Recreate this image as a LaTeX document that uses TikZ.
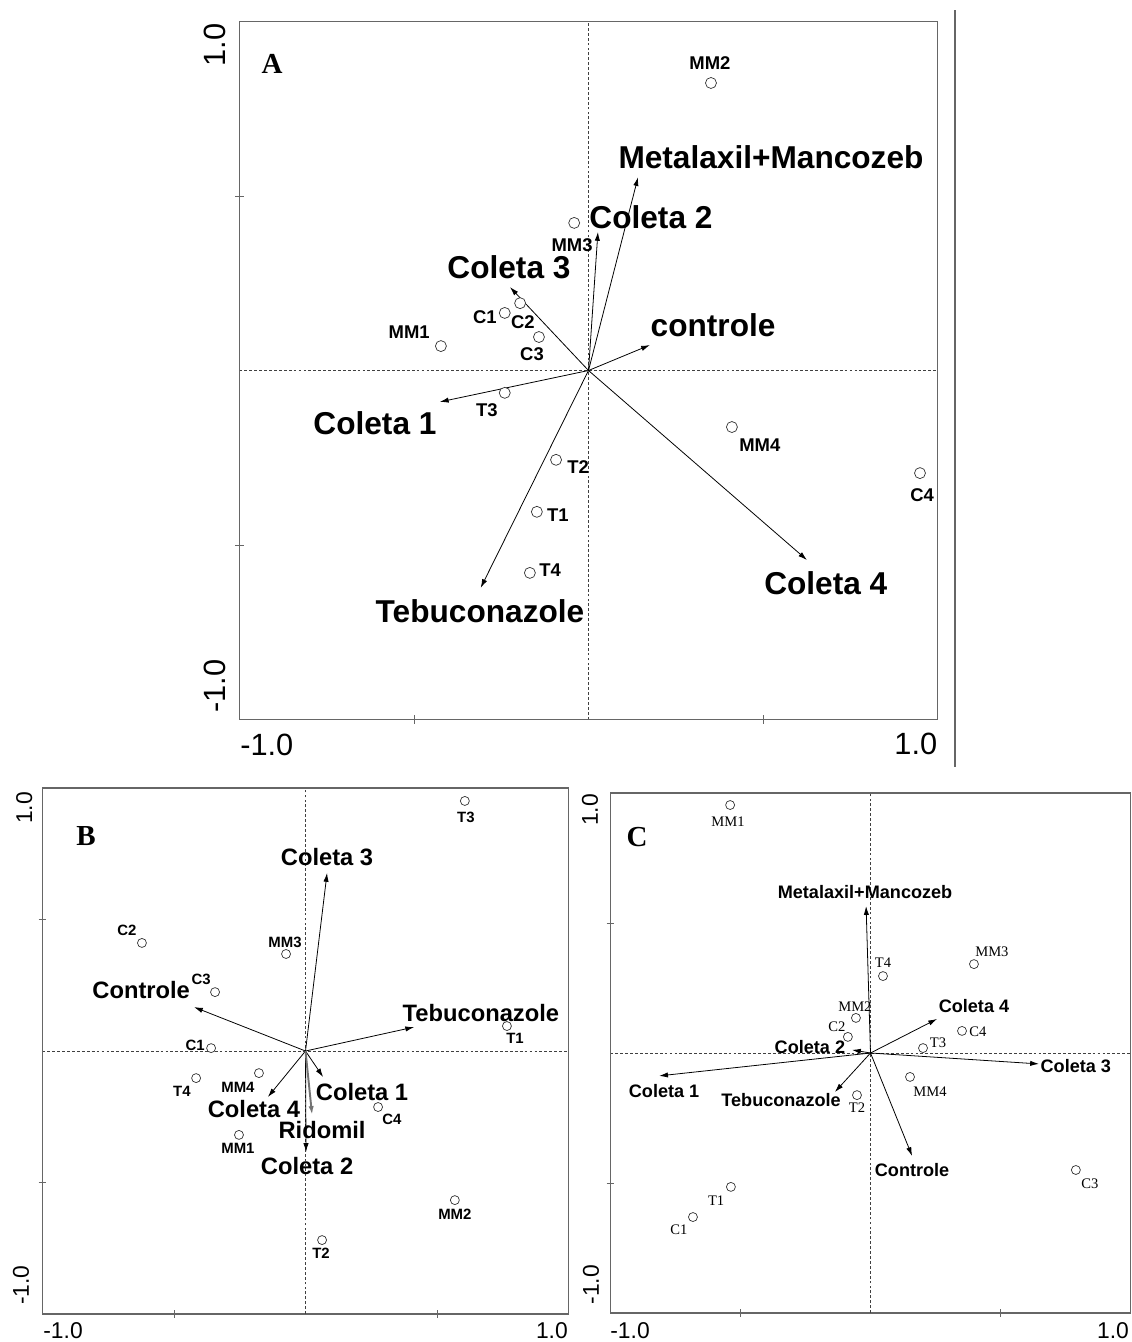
\documentclass[tikz,border=0pt]{standalone}
\usepackage{fontspec}
\setmainfont{Liberation Serif}
\setsansfont{Liberation Sans}
\usetikzlibrary{arrows.meta}

\tikzset{
  frame/.style={draw=black!60, line width=0.8pt},
  zeroline/.style={draw=black!75, line width=0.35pt, dash pattern=on 1.6pt off 1.2pt},
  tick/.style={draw=black!60, line width=0.5pt},
  vec/.style={-{Latex[length=5pt,width=3pt]}, line width=0.45pt},
  site/.style={circle, draw=black!80, fill=white, line width=0.4pt, inner sep=0pt, minimum size=0.22cm},
  varA/.style={font=\sffamily\bfseries\fontsize{18}{18}\selectfont, inner sep=0pt},
  varB/.style={font=\sffamily\bfseries\fontsize{13.5}{13.5}\selectfont, inner sep=0pt},
  varC/.style={font=\sffamily\bfseries\fontsize{10.3}{10.3}\selectfont, inner sep=0pt},
  labA/.style={font=\sffamily\bfseries\fontsize{10.5}{10.5}\selectfont, inner sep=0pt},
  labB/.style={font=\sffamily\bfseries\fontsize{8.5}{8.5}\selectfont, inner sep=0pt},
  labC/.style={font=\rmfamily\fontsize{8.3}{8.3}\selectfont, inner sep=0pt},
  axnumA/.style={font=\sffamily\fontsize{17.5}{17.5}\selectfont, inner sep=0pt},
  axnumB/.style={font=\sffamily\fontsize{13}{13}\selectfont, inner sep=0pt},
  panel/.style={font=\rmfamily\bfseries\fontsize{16.5}{16.5}\selectfont, inner sep=0pt}
}

\begin{document}
\begin{tikzpicture}[x=0.02cm, y=-0.02cm]
\useasboundingbox (0,0) rectangle (1132,1342);

% panel A
\draw[black!60, line width=0.8pt] (955,10) -- (955,767);
\begin{scope}[shift={(588.5,370.5)}, x=6.98cm, y=6.98cm]
  \draw[frame] (-1,-1) rectangle (1,1);
  \draw[zeroline] (-1,0) -- (1,0);
  \draw[zeroline] (0,-1) -- (0,1);
  \foreach \t in {-0.5,0.5} {
    \draw[tick] (\t,-1.012) -- (\t,-0.988);
    \draw[tick] (-1.012,\t) -- (-0.988,\t);
  }
  \node[axnumA, rotate=90] (ay1) at (-1.070,0.933) {1.0};
  \node[axnumA, rotate=90] (ay0) at (-1.070,-0.904) {-1.0};
  \node[axnumA] (ax0) at (-0.922,-1.073) {-1.0};
  \node[axnumA] (ax1) at (0.938,-1.070) {1.0};
  \node[panel] (pA) at (-0.907,0.878) {A};

  \coordinate (a0) at (0,0);
  \coordinate (aMet) at (0.142,0.554);
  \coordinate (aCol2) at (0.027,0.397);
  \coordinate (aCol3) at (-0.225,0.239);
  \coordinate (aCtrl) at (0.176,0.073);
  \coordinate (aCol1) at (-0.426,-0.090);
  \coordinate (aTeb) at (-0.309,-0.623);
  \coordinate (aCol4) at (0.626,-0.543);
  \draw[vec] (a0) -- (aMet);
  \draw[vec] (a0) -- (aCol2);
  \draw[vec] (a0) -- (aCol3);
  \draw[vec] (a0) -- (aCtrl);
  \draw[vec] (a0) -- (aCol1);
  \draw[vec] (a0) -- (aTeb);
  \draw[vec] (a0) -- (aCol4);
  \node[varA] (aMetl) at (0.523,0.612) {Metalaxil+Mancozeb};
  \node[varA] (aCol2l) at (0.179,0.440) {Coleta 2};
  \node[varA] (aCol3l) at (-0.228,0.297) {Coleta 3};
  \node[varA] (aCtrll) at (0.357,0.130) {controle};
  \node[varA] (aCol1l) at (-0.612,-0.150) {Coleta 1};
  \node[varA] (aTebl) at (-0.311,-0.689) {Tebuconazole};
  \node[varA] (aCol4l) at (0.680,-0.609) {Coleta 4};

  \node[site] (aMM2) at (0.351,0.824) {};
  \node[labA] (aMM2l) at (0.348,0.881) {MM2};
  \node[site] (aMM3) at (-0.041,0.423) {};
  \node[labA] (aMM3l) at (-0.047,0.360) {MM3};
  \node[site] (aC1) at (-0.240,0.165) {};
  \node[labA] (aC1l) at (-0.297,0.153) {C1};
  \node[site] (aC2) at (-0.196,0.193) {};
  \node[labA] (aC2l) at (-0.188,0.139) {C2};
  \node[site] (aC3) at (-0.142,0.096) {};
  \node[labA] (aC3l) at (-0.162,0.047) {C3};
  \node[site] (aMM1) at (-0.423,0.070) {};
  \node[labA] (aMM1l) at (-0.514,0.110) {MM1};
  \node[site] (aT3) at (-0.240,-0.064) {};
  \node[labA] (aT3l) at (-0.291,-0.113) {T3};
  \node[site] (aT2) at (-0.093,-0.256) {};
  \node[labA] (aT2l) at (-0.030,-0.277) {T2};
  \node[site] (aT1) at (-0.148,-0.405) {};
  \node[labA] (aT1l) at (-0.088,-0.414) {T1};
  \node[site] (aT4) at (-0.168,-0.580) {};
  \node[labA] (aT4l) at (-0.110,-0.572) {T4};
  \node[site] (aMM4) at (0.411,-0.162) {};
  \node[labA] (aMM4l) at (0.491,-0.213) {MM4};
  \node[site] (aC4) at (0.950,-0.294) {};
  \node[labA] (aC4l) at (0.956,-0.357) {C4};
\end{scope}

% panel B
\begin{scope}[shift={(305.5,1051)}, x=5.26cm, y=5.26cm, site/.append style={minimum size=0.18cm}]
  \draw[frame] (-1,-1) rectangle (1,1);
  \draw[zeroline] (-1,0) -- (1,0);
  \draw[zeroline] (0,-1) -- (0,1);
  \foreach \t in {-0.5,0.5} {
    \draw[tick] (\t,-1.015) -- (\t,-0.985);
    \draw[tick] (-1.015,\t) -- (-0.985,\t);
  }
  \node[axnumB, rotate=90] (by1) at (-1.070,0.924) {1.0};
  \node[axnumB, rotate=90] (by0) at (-1.082,-0.890) {-1.0};
  \node[axnumB] (bx0) at (-0.922,-1.065) {-1.0};
  \node[axnumB] (bx1) at (0.937,-1.065) {1.0};
  \node[panel] (pB) at (-0.835,0.818) {B};

  \coordinate (b0) at (0,0);
  \coordinate (bCtrl) at (-0.424,0.167);
  \coordinate (bCol3) at (0.082,0.677);
  \coordinate (bTeb) at (0.413,0.091);
  \coordinate (bCol4) at (-0.143,-0.175);
  \coordinate (bCol1) at (0.067,-0.099);
  \coordinate (bRid) at (0.025,-0.243);
  \coordinate (bCol2) at (0.002,-0.384);
  \draw[vec] (b0) -- (bCtrl);
  \draw[vec] (b0) -- (bCol3);
  \draw[vec] (b0) -- (bTeb);
  \draw[vec] (b0) -- (bCol4);
  \draw[vec] (b0) -- (bCol1);
  \draw[vec] (b0) -- (bCol2);
  \draw[vec, draw=black!55, line width=1.1pt] (b0) -- (bRid);
  \node[varB] (bCtrll) at (-0.625,0.232) {Controle};
  \node[varB] (bCol3l) at (0.082,0.738) {Coleta 3};
  \node[varB] (bTebl) at (0.667,0.144) {Tebuconazole};
  \node[varB] (bCol4l) at (-0.196,-0.221) {Coleta 4};
  \node[varB] (bCol1l) at (0.215,-0.156) {Coleta 1};
  \node[varB] (bRidl) at (0.063,-0.300) {Ridomil};
  \node[varB] (bCol2l) at (0.006,-0.437) {Coleta 2};

  \node[site] (bC2) at (-0.622,0.411) {};
  \node[labB] (bC2l) at (-0.679,0.460) {C2};
  \node[site] (bMM3) at (-0.074,0.369) {};
  \node[labB] (bMM3l) at (-0.078,0.414) {MM3};
  \node[site] (bC3) at (-0.344,0.224) {};
  \node[labB] (bC3l) at (-0.397,0.274) {C3};
  \node[site] (bC1) at (-0.359,0.011) {};
  \node[labB] (bC1l) at (-0.420,0.023) {C1};
  \node[site] (bT3) at (0.606,0.951) {};
  \node[labB] (bT3l) at (0.610,0.890) {T3};
  \node[site] (bT1) at (0.766,0.095) {};
  \node[labB] (bT1l) at (0.797,0.049) {T1};
  \node[site] (bT4) at (-0.416,-0.103) {};
  \node[labB] (bT4l) at (-0.470,-0.152) {T4};
  \node[site] (bMM4) at (-0.177,-0.084) {};
  \node[labB] (bMM4l) at (-0.257,-0.137) {MM4};
  \node[site] (bC4) at (0.276,-0.213) {};
  \node[labB] (bC4l) at (0.329,-0.259) {C4};
  \node[site] (bMM1) at (-0.253,-0.319) {};
  \node[labB] (bMM1l) at (-0.257,-0.369) {MM1};
  \node[site] (bMM2) at (0.568,-0.567) {};
  \node[labB] (bMM2l) at (0.568,-0.620) {MM2};
  \node[site] (bT2) at (0.063,-0.719) {};
  \node[labB] (bT2l) at (0.059,-0.768) {T2};
\end{scope}

% panel C
\begin{scope}[shift={(870.5,1053)}, x=5.2cm, y=5.2cm, site/.append style={minimum size=0.18cm}]
  \draw[frame] (-1,-1) rectangle (1,1);
  \draw[zeroline] (-1,0) -- (1,0);
  \draw[zeroline] (0,-1) -- (0,1);
  \foreach \t in {-0.5,0.5} {
    \draw[tick] (\t,-1.015) -- (\t,-0.985);
    \draw[tick] (-1.015,\t) -- (-0.985,\t);
  }
  \node[axnumB, rotate=90] (cy1) at (-1.079,0.935) {1.0};
  \node[axnumB, rotate=90] (cy0) at (-1.075,-0.892) {-1.0};
  \node[axnumB] (cx0) at (-0.925,-1.069) {-1.0};
  \node[axnumB] (cx1) at (0.933,-1.069) {1.0};
  \node[panel] (pC) at (-0.898,0.831) {C};

  \coordinate (c0) at (0,0);
  \coordinate (cMet) at (-0.017,0.565);
  \coordinate (cCol2) at (-0.071,0.012);
  \coordinate (cCol1) at (-0.813,-0.088);
  \coordinate (cCol4) at (0.256,0.131);
  \coordinate (cCol3) at (0.648,-0.042);
  \coordinate (cTeb) at (-0.137,-0.150);
  \coordinate (cCtrl) at (0.160,-0.396);
  \draw[vec] (c0) -- (cMet);
  \draw[vec] (c0) -- (cCol2);
  \draw[vec] (c0) -- (cCol1);
  \draw[vec] (c0) -- (cCol4);
  \draw[vec] (c0) -- (cCol3);
  \draw[vec] (c0) -- (cTeb);
  \draw[vec] (c0) -- (cCtrl);
  \node[varC] (cMetl) at (-0.021,0.619) {Metalaxil+Mancozeb};
  \node[varC] (cCol2l) at (-0.233,0.023) {Coleta 2};
  \node[varC] (cCol1l) at (-0.794,-0.146) {Coleta 1};
  \node[varC] (cCol4l) at (0.398,0.181) {Coleta 4};
  \node[varC] (cCol3l) at (0.790,-0.050) {Coleta 3};
  \node[varC] (cTebl) at (-0.344,-0.181) {Tebuconazole};
  \node[varC] (cCtrll) at (0.160,-0.450) {Controle};

  \node[site] (cMM1) at (-0.540,0.954) {};
  \node[labC] (cMM1l) at (-0.548,0.888) {MM1};
  \node[site] (cMM2) at (-0.056,0.135) {};
  \node[labC] (cMM2l) at (-0.060,0.177) {MM2};
  \node[site] (cC2) at (-0.087,0.062) {};
  \node[labC] (cC2l) at (-0.129,0.100) {C2};
  \node[site] (cT4) at (0.048,0.296) {};
  \node[labC] (cT4l) at (0.048,0.346) {T4};
  \node[site] (cMM3) at (0.398,0.342) {};
  \node[labC] (cMM3l) at (0.467,0.388) {MM3};
  \node[site] (cC4) at (0.352,0.085) {};
  \node[labC] (cC4l) at (0.413,0.081) {C4};
  \node[site] (cT3) at (0.202,0.019) {};
  \node[labC] (cT3l) at (0.260,0.038) {T3};
  \node[site] (cMM4) at (0.152,-0.092) {};
  \node[labC] (cMM4l) at (0.229,-0.150) {MM4};
  \node[site] (cT2) at (-0.052,-0.162) {};
  \node[labC] (cT2l) at (-0.052,-0.212) {T2};
  \node[site] (cC3) at (0.790,-0.450) {};
  \node[labC] (cC3l) at (0.844,-0.504) {C3};
  \node[site] (cT1) at (-0.537,-0.515) {};
  \node[labC] (cT1l) at (-0.594,-0.569) {T1};
  \node[site] (cC1) at (-0.683,-0.631) {};
  \node[labC] (cC1l) at (-0.737,-0.681) {C1};
\end{scope}
\end{tikzpicture}
\end{document}
